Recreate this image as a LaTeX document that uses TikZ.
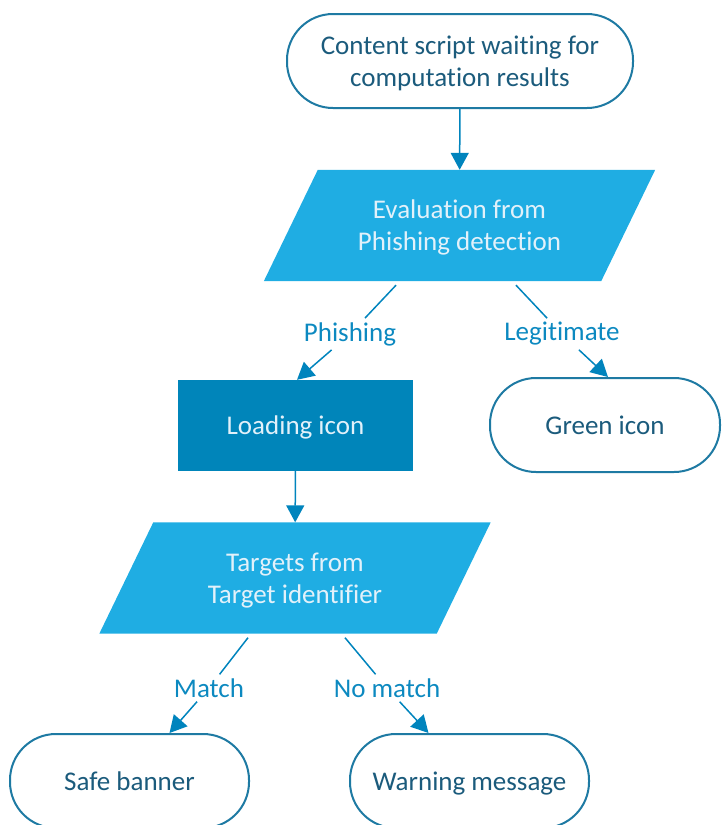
\documentclass[tikz,border=0pt]{standalone}
\usepackage{fontspec}
\setmainfont{Carlito}[Ligatures=CommonOff]
\usetikzlibrary{arrows.meta,backgrounds}
\definecolor{termline}{HTML}{1E7AA3}
\definecolor{termtext}{HTML}{1B5B7C}
\definecolor{parafill}{HTML}{1FADE3}
\definecolor{loadfill}{HTML}{0085BA}
\definecolor{lighttext}{HTML}{E2F1FA}
\definecolor{arrowcol}{HTML}{0084BD}
\definecolor{labelcol}{HTML}{0C89C0}
\newcommand\lowtext[1]{\raisebox{-3pt}[\height][\depth]{\begin{tabular}{@{}c@{}}#1\end{tabular}}}
\begin{document}
\begin{tikzpicture}[x=1pt,y=-1pt,
  font=\fontsize{27}{32}\selectfont,
  term/.style={draw=termline, line width=2pt, rounded corners=46pt, fill=white,
    text=termtext, inner sep=0pt, minimum height=94pt},
  parabox/.style={rectangle, minimum width=337pt, minimum height=111pt,
    text=lighttext, inner sep=0pt},
  loadbox/.style={rectangle, fill=loadfill, minimum width=235pt, minimum height=91pt,
    text=lighttext, inner sep=0pt},
  conn/.style={draw=arrowcol, line width=1.5pt},
  arr/.style={conn, -{Triangle[length=17pt,width=18pt]}},
  lbl/.style={text=labelcol, inner sep=4pt}]
\useasboundingbox (0,0) rectangle (721,825);

\node[term, minimum width=346pt] (start) at (460,61) {\lowtext{Content script waiting for\\computation results}};
\node[parabox] (eval) at (459.5,225.5) {\lowtext{Evaluation from\\Phishing detection}};
\node[loadbox] (load) at (295.5,425.5) {\lowtext{Loading icon}};
\node[term, minimum width=230pt] (green) at (605,425) {\lowtext{Green icon}};
\node[parabox] (tgt) at (295,578) {\lowtext{Targets from\\Target identifier}};
\node[term, minimum width=239pt] (safe) at (129.5,781) {\lowtext{Safe banner}};
\node[term, minimum width=239pt] (warn) at (469.5,781) {\lowtext{Warning message}};

\begin{scope}[on background layer]
\fill[parafill] ([xshift=27pt]eval.north west) -- ([xshift=27pt]eval.north east)
  -- ([xshift=-27pt]eval.south east) -- ([xshift=-27pt]eval.south west) -- cycle;
\fill[parafill] ([xshift=27pt]tgt.north west) -- ([xshift=27pt]tgt.north east)
  -- ([xshift=-27pt]tgt.south east) -- ([xshift=-27pt]tgt.south west) -- cycle;
\end{scope}

\node[lbl] (ph) at (350,334) {Phishing};
\node[lbl] (lg) at (562,334) {Legitimate};
\node[lbl] (mt) at (209,688) {Match};
\node[lbl] (nm) at (387,688) {No match};

\draw[arr] (start) -- (eval);
\draw[conn] ([xshift=-63.5pt,yshift=-4pt]eval.south) -- (ph);
\draw[arr] (ph) -- ([xshift=1.5pt]load.north);
\draw[conn] ([xshift=56.5pt,yshift=-4pt]eval.south) -- (lg);
\draw[arr] (lg) -- ([xshift=3pt]green.north);
\draw[arr] (load) -- (tgt);
\draw[conn] ([xshift=-47pt,yshift=-4pt]tgt.south) -- (mt);
\draw[arr] (mt) -- ([xshift=40pt]safe.north);
\draw[conn] ([xshift=50pt,yshift=-4pt]tgt.south) -- (nm);
\draw[arr] (nm) -- ([xshift=-41pt]warn.north);
\end{tikzpicture}
\end{document}
